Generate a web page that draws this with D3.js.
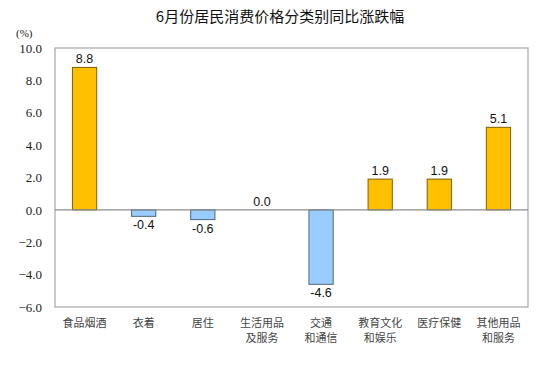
<!DOCTYPE html>
<html>
<head>
<meta charset="utf-8">
<script src="https://cdn.jsdelivr.net/npm/d3@7"></script>
<style>
  body { margin: 0; background: #fff; }
  svg { display: block; }
</style>
</head>
<body>
<div id="chart"></div>
<script>
// data
var categories = [["食品烟酒"], ["衣着"], ["居住"], ["生活用品", "及服务"], ["交通", "和通信"], ["教育文化", "和娱乐"], ["医疗保健"], ["其他用品", "和服务"]];
var values = [8.8, -0.4, -0.6, 0.0, -4.6, 1.9, 1.9, 5.1];
var yTicks = [-6, -4, -2, 0, 2, 4, 6, 8, 10];

var svgWidth = 540;
var svgHeight = 369;

var margin = { top: 48, right: 12, bottom: 62, left: 55 };
var chartWidth = svgWidth - margin.left - margin.right;
var chartHeight = svgHeight - margin.top - margin.bottom;

var svg = d3.select("#chart")
  .append("svg")
  .attr("width", svgWidth)
  .attr("height", svgHeight);

// title
svg.append("text")
  .attr("x", 280)
  .attr("y", 22)
  .attr("text-anchor", "middle")
  .attr("font-family", "'Noto Sans CJK SC', sans-serif")
  .attr("font-size", 15)
  .attr("fill", "#111")
  .text("6月份居民消费价格分类别同比涨跌幅");

// unit
svg.append("text")
  .attr("x", 16)
  .attr("y", 37)
  .attr("font-family", "'Liberation Serif', 'Times New Roman', serif")
  .attr("font-size", 11)
  .attr("fill", "#222")
  .text("(%)");

var chartGroup = svg.append("g")
  .attr("transform", `translate(${margin.left}, ${margin.top})`);

var xScale = d3.scaleBand()
  .domain(d3.range(categories.length))
  .range([0, chartWidth])
  .paddingInner(0.59)
  .paddingOuter(0.295);

var yScale = d3.scaleLinear()
  .domain([-6, 10])
  .range([chartHeight, 0]);

// plot border
chartGroup.append("rect")
  .attr("x", 0)
  .attr("y", 0)
  .attr("width", chartWidth)
  .attr("height", chartHeight)
  .attr("fill", "none")
  .attr("stroke", "#a6a6a6")
  .attr("stroke-width", 1.2);

// y axis labels
var leftAxis = d3.axisLeft(yScale)
  .tickValues(yTicks)
  .tickFormat(d3.format(".1f"))
  .tickSize(0)
  .tickPadding(13);

var yAxisG = chartGroup.append("g").call(leftAxis);
yAxisG.select(".domain").remove();
yAxisG.selectAll("text")
  .attr("font-family", "'Liberation Serif', 'Times New Roman', serif")
  .attr("font-size", 13)
  .attr("fill", "#222");

// bars
chartGroup.selectAll(".bar")
  .data(values)
  .enter()
  .append("rect")
  .attr("class", "bar")
  .attr("x", (d, i) => xScale(i))
  .attr("width", xScale.bandwidth())
  .attr("y", d => yScale(Math.max(0, d)))
  .attr("height", d => Math.abs(yScale(d) - yScale(0)))
  .attr("fill", d => d >= 0 ? "#ffc000" : "#99ccff")
  .attr("stroke", d => d >= 0 ? "#7f6000" : "#4d6680")
  .attr("stroke-width", 1);

// zero line
chartGroup.append("line")
  .attr("x1", 0)
  .attr("x2", chartWidth)
  .attr("y1", yScale(0))
  .attr("y2", yScale(0))
  .attr("stroke", "#8c8c8c")
  .attr("stroke-width", 1.2);

// value labels
chartGroup.selectAll(".valueText")
  .data(values)
  .enter()
  .append("text")
  .attr("class", "valueText")
  .attr("x", (d, i) => xScale(i) + xScale.bandwidth() / 2)
  .attr("y", d => d >= 0 ? yScale(d) - 4 : yScale(d) + 13)
  .attr("text-anchor", "middle")
  .attr("font-family", "'Liberation Sans', Arial, sans-serif")
  .attr("font-size", 12.5)
  .attr("fill", "#111")
  .text(d => d.toFixed(1));

// category labels
var catG = chartGroup.selectAll(".catText")
  .data(categories)
  .enter()
  .append("text")
  .attr("class", "catText")
  .attr("text-anchor", "middle")
  .attr("font-family", "'Noto Sans CJK SC', sans-serif")
  .attr("font-size", 11)
  .attr("fill", "#444");

catG.selectAll("tspan")
  .data((d, i) => d.map(s => ({ s: s, i: i })))
  .enter()
  .append("tspan")
  .attr("x", d => xScale(d.i) + xScale.bandwidth() / 2)
  .attr("y", (d, j) => chartHeight + 20 + j * 15)
  .text(d => d.s);
</script>
</body>
</html>
